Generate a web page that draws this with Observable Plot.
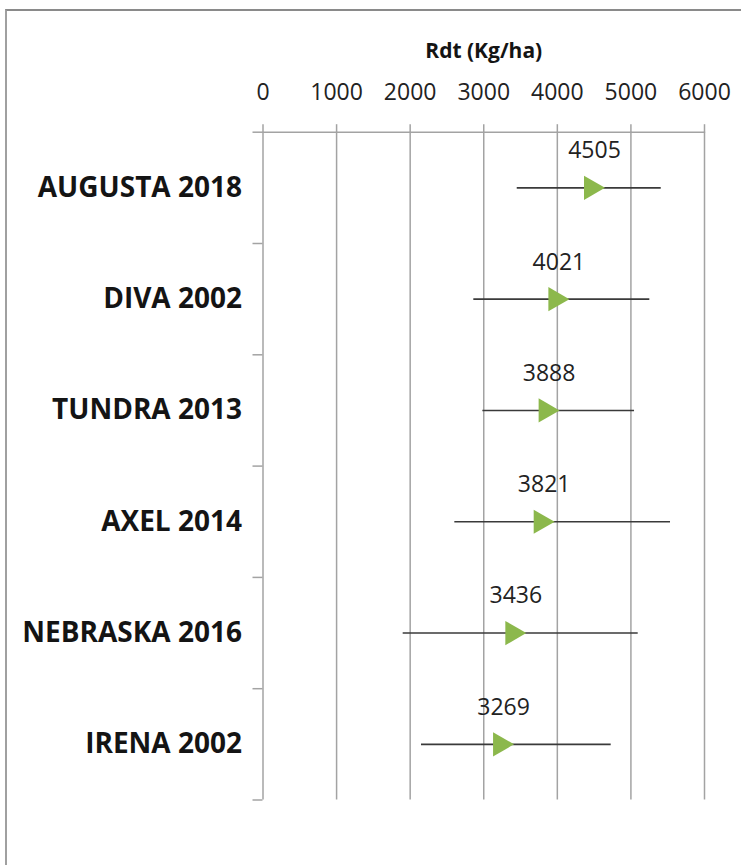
<!DOCTYPE html>
<html>
<head>
<meta charset="utf-8">
<script src="https://cdn.jsdelivr.net/npm/d3@7"></script>
<script src="https://cdn.jsdelivr.net/npm/@observablehq/plot@0.6"></script>
<style>
  html, body { margin: 0; padding: 0; background: #fff; }
  #wrap { position: relative; width: 741px; height: 865px; overflow: hidden; }
  #frame { position: absolute; left: 5px; top: 9px; width: 800px; height: 900px;
           border-top: 2px solid #8a8a8a; border-left: 2px solid #a0a0a0; box-sizing: border-box; }
  #chart { position: absolute; left: 0; top: 0; }
</style>
</head>
<body>
<div id="wrap"><div id="frame"></div><div id="chart"></div></div>
<script>
const categories = ["AUGUSTA 2018", "DIVA 2002", "TUNDRA 2013", "AXEL 2014", "NEBRASKA 2016", "IRENA 2002"];
const means = [4505, 4021, 3888, 3821, 3436, 3269];
const lows  = [3455, 2865, 2988, 2607, 1905, 2154];
const highs = [5412, 5257, 5049, 5538, 5099, 4732];
const xTicks = [0, 1000, 2000, 3000, 4000, 5000, 6000];
const axisTitle = "Rdt (Kg/ha)";

const rows = categories.map((c, i) => ({name: c, y: i + 0.5, mean: means[i], lo: lows[i], hi: highs[i]}));
const rowBounds = d3.range(categories.length + 1);

const grid = "#a3a3a3";
const plot = Plot.plot({
  width: 741,
  height: 865,
  marginLeft: 262.5,
  marginRight: 37,
  marginTop: 131.7,
  marginBottom: 65.5,
  style: {fontFamily: "'Open Sans', sans-serif", background: "transparent"},
  x: {domain: [0, 6000]},
  y: {domain: [0, categories.length], range: [131.7, 799.5]},
  marks: [
    Plot.gridX(xTicks, {stroke: grid, strokeOpacity: 1, strokeWidth: 1.5}),
    Plot.axisX(xTicks, {anchor: "top", tickSize: 8.5, tickPadding: 24, stroke: grid, strokeWidth: 1.5,
      fontSize: 23, fill: "#222", label: null, tickFormat: d => String(d)}),
    Plot.ruleY([0], {stroke: grid, strokeWidth: 1.5}),
    Plot.axisY(rowBounds, {anchor: "left", tickSize: 10, stroke: grid, strokeWidth: 1.5, tickFormat: () => "", label: null}),
    Plot.text(categories, {frameAnchor: "left", y: (d, i) => i + 0.5, textAnchor: "end", dx: -21,
      fontWeight: "bold", fontSize: 28, fill: "#141414"}),
    Plot.ruleY(rows, {y: "y", x1: "lo", x2: "hi", stroke: "#3a3a3a", strokeWidth: 1.6}),
    Plot.dot(rows, {x: "mean", y: "y", symbol: "triangle", rotate: 90, r: 9, dx: -3.5, fill: "#8cb84c", stroke: "none"}),
    Plot.text(rows, {x: "mean", y: "y", text: d => String(d.mean), dy: -37, fontSize: 23, fill: "#222"}),
    Plot.text([axisTitle], {frameAnchor: "top", dy: -89, fontWeight: "bold", fontSize: 21, fill: "#141414"})
  ]
});
document.getElementById("chart").appendChild(plot);
</script>
</body>
</html>
